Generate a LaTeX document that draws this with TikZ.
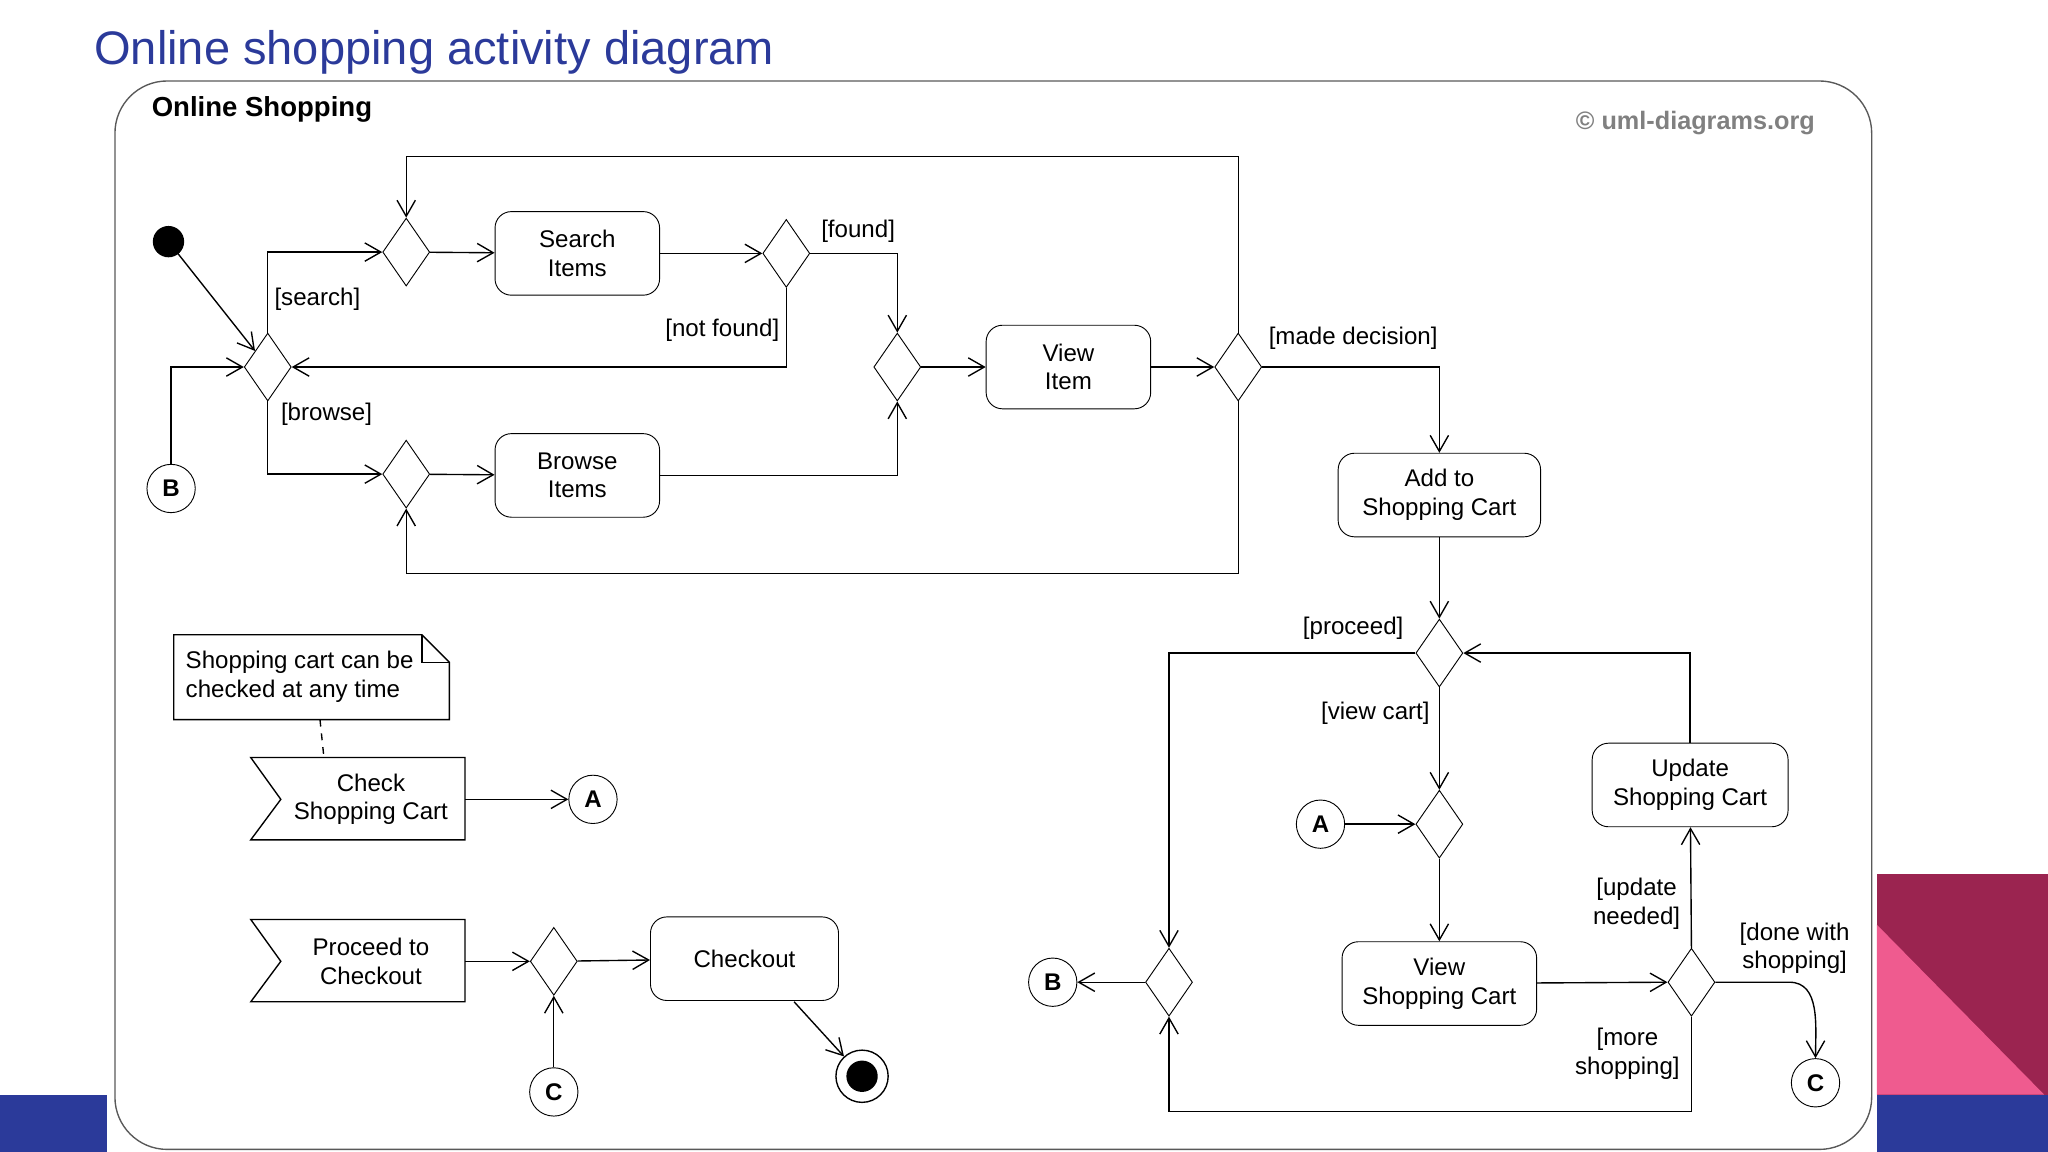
\documentclass[tikz,border=0pt]{standalone}
\usepackage{fontspec}
\setmainfont{Liberation Sans}
\usetikzlibrary{arrows.meta,shapes.geometric}
\definecolor{titleblue}{HTML}{2B3A9A}
\definecolor{crimson}{HTML}{9B2450}
\definecolor{rosepink}{HTML}{EF5B8F}
\tikzset{
    x=0.02cm, y=-0.02cm,
    every node/.style={font=\fontsize{10.5}{12.5}\selectfont, align=center},
    act/.style={draw, rounded corners=0.25cm, minimum width=2.52cm, minimum height=1.28cm, inner sep=1pt},
    dec/.style={draw, diamond, minimum width=0.72cm, minimum height=1.04cm, inner sep=0pt},
    conn/.style={draw, circle, minimum size=0.74cm, inner sep=0pt, font=\bfseries\fontsize{10.5}{12}\selectfont},
    flow/.style={semithick, -{Straight Barb[length=7pt,width=8pt]}},
    guard/.style={inner sep=1pt},
}
\begin{document}
\begin{tikzpicture}
\useasboundingbox (0,0) rectangle (1568,882);
% slide decorations
\fill[titleblue] (0,838) rectangle (82,882);
\fill[titleblue] (1437,838) rectangle (1568,882);
\fill[crimson] (1437,669) rectangle (1568,838);
\fill[rosepink] (1437,708) -- (1565,838) -- (1437,838) -- cycle;
\node[anchor=west, text=titleblue, font=\fontsize{20.5}{24}\selectfont] (title) at (66,40) {Online shopping activity diagram};
% frame
\draw[semithick, gray!70!black, rounded corners=0.8cm] (88,62) rectangle (1433,880);
\node[anchor=west, font=\bfseries\fontsize{12}{14}\selectfont] (frm) at (110,84) {Online Shopping};
\node[text=gray, font=\rmfamily\bfseries\fontsize{11}{13}\selectfont] (copy) at (1298,94) {\textcopyright\ uml-diagrams.org};

% nodes
\fill (129,185) circle (12) coordinate (init);
\node[dec] (d1) at (205,281) {};
\node[dec] (d2) at (311,193) {};
\node[act] (search) at (442,194) {Search\\Items};
\node[dec] (d3) at (602,194) {};
\node[dec] (d4) at (311,363) {};
\node[act] (browse) at (442,364) {Browse\\Items};
\node[dec] (d5) at (687,281) {};
\node[act] (view) at (818,281) {View\\Item};
\node[dec] (d6) at (948,281) {};
\node[act, minimum width=3.1cm] (add) at (1102,379) {Add to\\Shopping Cart};
\node[dec] (d7) at (1102,500) {};
\node[dec] (d8) at (1102,631) {};
\node[conn] (a2) at (1011,631) {A};
\node[act, minimum width=2.98cm] (vcart) at (1102,753) {View\\Shopping Cart};
\node[dec] (d9) at (1295,752) {};
\node[act, minimum width=3.0cm] (upd) at (1294,601) {Update\\Shopping Cart};
\node[dec] (d10) at (895,752) {};
\node[conn] (b2) at (806,752) {B};
\node[conn] (c2) at (1390,829) {C};
\node[conn] (b1) at (131,374) {B};

% note
\draw[semithick] (133,486) -- (323,486) -- (344,507) -- (344,551) -- (133,551) -- cycle;
\draw[semithick] (323,486) -- (323,507) -- (344,507);
\node[anchor=west, align=left] (note) at (136,518) {Shopping cart can be\\checked at any time};

% signal receipts
\node[minimum width=3.28cm, minimum height=1.26cm] (check) at (274,612) {\hspace{0.4cm}Check\\\hspace{0.4cm}Shopping Cart};
\draw[semithick] (192,580) -- (356,580) -- (356,643) -- (192,643) -- (215,612) -- cycle;
\node[conn] (a1) at (454,612) {A};
\node[minimum width=3.28cm, minimum height=1.26cm] (proceed) at (274,736) {\hspace{0.4cm}Proceed to\\\hspace{0.4cm}Checkout};
\draw[semithick] (192,704) -- (356,704) -- (356,767) -- (192,767) -- (215,736) -- cycle;
\node[dec] (d11) at (424,736) {};
\node[conn] (c1) at (424,836) {C};
\node[act, minimum width=2.88cm] (checkout) at (570,734) {Checkout};
\node[circle, draw, semithick, minimum size=0.8cm, inner sep=0pt] (final) at (660,824) {};
\fill (final) circle (12);

% guards
\node[guard] (gs) at (243,229) {[search]};
\node[guard] (gb) at (250,317) {[browse]};
\node[guard] (gf) at (657,177) {[found]};
\node[guard] (gn) at (553,253) {[not found]};
\node[guard] (gm) at (1036,259) {[made decision]};
\node[guard] (gp) at (1036,481) {[proceed]};
\node[guard] (gv) at (1053,546) {[view cart]};
\node[guard] (gu) at (1253,692) {[update\\needed]};
\node[guard] (gd) at (1374,726) {[done with\\shopping]};
\node[guard] (gr) at (1246,807) {[more\\shopping]};

% flows
\draw[flow] (init) -- (d1);
\draw[flow] (b1) |- (d1.west);
\draw[flow] (d1.north) |- (d2.west);
\draw[flow] (d1.south) |- (d4.west);
\draw[flow] (d2) -- (search);
\draw[flow] (search) -- (d3);
\draw[flow] (d3.east) -| (d5.north);
\draw[flow] (d3.south) |- (d1.east);
\draw[flow] (d4) -- (browse);
\draw[flow] (browse) -| (d5.south);
\draw[flow] (d5) -- (view);
\draw[flow] (view) -- (d6);
\draw[flow] (d6.north) -- (948,120) -| (d2.north);
\draw[flow] (d6.south) -- (948,439) -| (d4.south);
\draw[flow] (d6.east) -| (add.north);
\draw[flow] (add) -- (d7);
\draw[flow] (d7.west) -| (d10.north);
\draw[flow] (d7.south) -- (d8.north);
\draw[flow] (a2) -- (d8.west);
\draw[flow] (d8.south) -- (vcart);
\draw[flow] (vcart) -- (d9.west);
\draw[flow] (d9.north) -- (upd);
\draw[flow] (upd.north) |- (d7.east);
\draw[flow] (d9.east) -- (1370,752) to[out=0, in=90] (c2.north);
\draw[flow] (d9.south) -- (1295,851) -| (d10.south);
\draw[flow] (d10) -- (b2);
\draw[semithick, dashed] (245,551) -- (248,580);
\draw[flow] (check.east) -- (a1);
\draw[flow] (proceed.east) -- (d11.west);
\draw[flow] (c1) -- (d11.south);
\draw[flow] (d11) -- (checkout);
\draw[flow] (608,767) -- (final);
\end{tikzpicture}
\end{document}
